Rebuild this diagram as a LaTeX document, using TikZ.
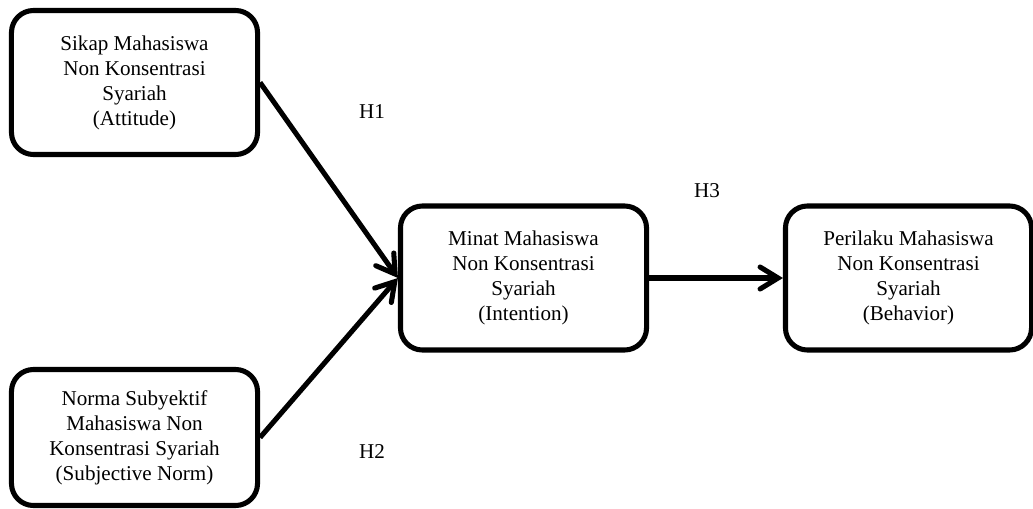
\documentclass[tikz,border=0pt]{standalone}
\usepackage{fontspec}
\setmainfont{Liberation Serif}
\usepackage{tikz}
\usetikzlibrary{arrows.meta}

\begin{document}
\begin{tikzpicture}[x=0.025cm,y=-0.025cm,
	box/.style={draw,line width=3.6pt,rounded corners=0.55cm,align=center,minimum width=6.15cm,minimum height=3.6cm,font=\fontsize{15}{17.8}\selectfont},
	hyp/.style={font=\fontsize{15}{17.8}\selectfont},
	link/.style={line width=3.6pt,-{Straight Barb[length=0.45cm,width=0.55cm,line cap=round]}}]
	\useasboundingbox (0,0) rectangle (1033,508);
	
	\node[box] (att) at (134.5,82.5) {Sikap Mahasiswa\\Non Konsentrasi\\Syariah\\(Attitude)};
	\node[box,minimum height=3.4cm] (sn) at (134.5,437.5) {Norma Subyektif\\Mahasiswa Non\\Konsentrasi Syariah\\(Subjective Norm)};
	\node[box] (int) at (523.5,278) {Minat Mahasiswa\\Non Konsentrasi\\Syariah\\(Intention)};
	\node[box] (beh) at (908.5,278) {Perilaku Mahasiswa\\Non Konsentrasi\\Syariah\\(Behavior)};
	
	\draw[link] (att.east) -- (int.west);
	\draw[link] (sn.east) -- (int.west);
	\draw[link] (int) -- (beh);
	
	\node[hyp] (h1) at (372,112) {H1};
	\node[hyp] (h2) at (372,452) {H2};
	\node[hyp] (h3) at (707,191) {H3};
\end{tikzpicture}
\end{document}
